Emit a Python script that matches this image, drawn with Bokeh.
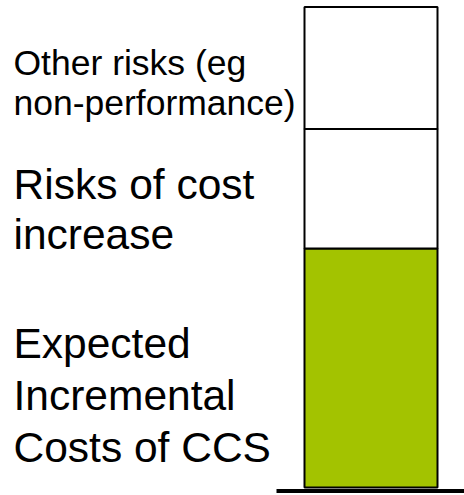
from bokeh.plotting import figure
from bokeh.models import ColumnDataSource
from bokeh.core.properties import value
from bokeh.embed import file_html
from bokeh.resources import INLINE

# ---- data ----
segments = ["Expected Incremental Costs of CCS", "Risks of cost increase", "Other risks (eg non-performance)"]
seg_values = [2.0, 1.0, 1.02]
seg_colors = ["#a3c300", "#ffffff", "#ffffff"]
label_lines = [["Expected", "Incremental", "Costs of CCS"],
               ["Risks of cost", "increase"],
               ["Other risks (eg", "non-performance)"]]
label_sizes = ["42.5px", "42.5px", "35.5px"]

# ---- layout constants (pixels) ----
W, H = 464, 495
PX_PER_UNIT = 119.5          # vertical pixels per value unit
BAR_W_PX = 133.0             # bar width in pixels
BAR_CX_PX = 370.5            # bar centre from plot left
BAR_BOTTOM_PX = 487          # value 0 from plot top

x_start = -BAR_CX_PX / BAR_W_PX
x_end = (W - BAR_CX_PX) / BAR_W_PX
y_end = BAR_BOTTOM_PX / PX_PER_UNIT
y_start = -(H - BAR_BOTTOM_PX) / PX_PER_UNIT

p = figure(width=W, height=H, x_range=(x_start, x_end), y_range=(y_start, y_end),
           output_backend="svg", toolbar_location=None, min_border=0,
           outline_line_color=None)
p.axis.visible = False
p.grid.visible = False
p.background_fill_color = "white"
p.border_fill_color = "white"

bottoms, tops = [], []
acc = 0.0
for v in seg_values:
    bottoms.append(acc)
    acc += v
    tops.append(acc)

src = ColumnDataSource(dict(x=[0.0] * len(seg_values), bottom=bottoms, top=tops, color=seg_colors))
p.vbar(x="x", width=1.0, bottom="bottom", top="top", fill_color="color",
       line_color="black", line_width=2, source=src)

# baseline under the bar
base_y = -3.5 / PX_PER_UNIT
p.segment(x0=[(276 - BAR_CX_PX) / BAR_W_PX], x1=[x_end + 0.1], y0=[base_y], y1=[base_y],
          line_color="black", line_width=4)

# labels (baselines in pixels from top)
baselines_px = [[343, 395, 447], [184, 234], [62, 102]]
text_x = (13 - BAR_CX_PX) / BAR_W_PX
for lines, bls, size in zip(label_lines, baselines_px, label_sizes):
    ys = [(BAR_BOTTOM_PX - b) / PX_PER_UNIT for b in bls]
    p.text(x=[text_x] * len(lines), y=ys, text=lines, text_font=value("Liberation Sans"),
           text_font_size=size, text_color="black", text_baseline="alphabetic",
           text_align="left")

open("out.html", "w").write(file_html(p, INLINE))
